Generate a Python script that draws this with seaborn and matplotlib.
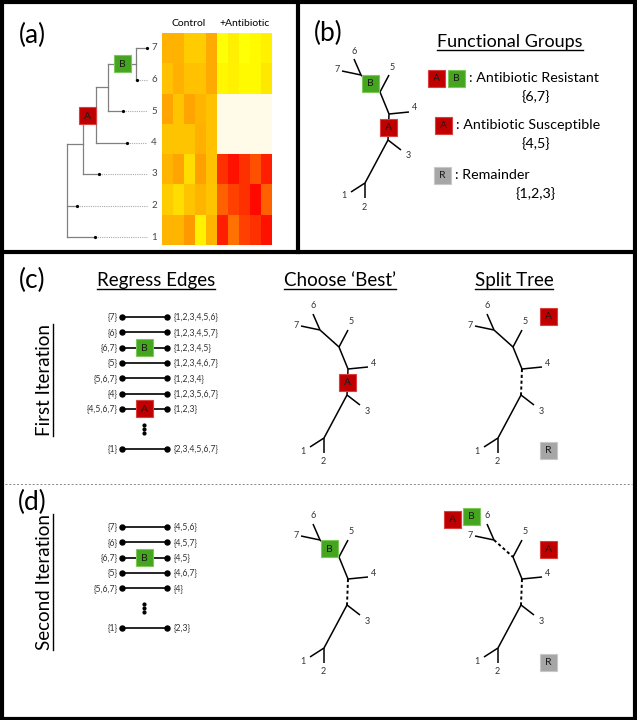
import numpy as np
import pandas as pd
import seaborn as sns
import matplotlib.pyplot as plt
from matplotlib.colors import LinearSegmentedColormap
from matplotlib.patches import Rectangle

# ---- data -------------------------------------------------------------
# heatmap rows are genes 7..1 (top to bottom); 5 control + 5 antibiotic replicates
genes = ['7', '6', '5', '4', '3', '2', '1']
conditions = ['Control'] * 5 + ['+Antibiotic'] * 5
expr_g7 = [0.37, 0.37, 0.28, 0.28, 0.40, 0.10, 0.16, 0.10, 0.12, 0.15]
expr_g6 = [0.32, 0.38, 0.32, 0.32, 0.40, 0.13, 0.15, 0.12, 0.12, 0.18]
expr_g5 = [0.42, 0.31, 0.42, 0.36, 0.32, 0.00, 0.00, 0.00, 0.00, 0.00]
expr_g4 = [0.31, 0.31, 0.31, 0.38, 0.32, 0.00, 0.00, 0.00, 0.00, 0.00]
expr_g3 = [0.36, 0.42, 0.22, 0.44, 0.32, 0.83, 0.94, 0.83, 0.72, 0.89]
expr_g2 = [0.28, 0.22, 0.31, 0.36, 0.31, 0.66, 0.77, 0.83, 0.97, 0.66]
expr_g1 = [0.36, 0.36, 0.46, 0.15, 0.36, 0.89, 0.60, 0.77, 0.83, 0.94]

# regress-edge lists
first_left = ['{7}', '{6}', '{6,7}', '{5}', '{5,6,7}', '{4}', '{4,5,6,7}', '{1}']
first_right = ['{1,2,3,4,5,6}', '{1,2,3,4,5,7}', '{1,2,3,4,5}', '{1,2,3,4,6,7}',
               '{1,2,3,4}', '{1,2,3,5,6,7}', '{1,2,3}', '{2,3,4,5,6,7}']
first_box = [None, None, 'B', None, None, None, 'A', None]
second_left = ['{7}', '{6}', '{6,7}', '{5}', '{5,6,7}', '{1}']
second_right = ['{4,5,6}', '{4,5,7}', '{4,5}', '{4,6,7}', '{4}', '{2,3}']
second_box = [None, None, 'B', None, None, None]

# functional groups legend
group_letters = [['A', 'B'], ['A'], ['R']]
group_names = [': Antibiotic Resistant', ': Antibiotic Susceptible', ': Remainder']
group_members = ['{6,7}', '{4,5}', '{1,2,3}']

# unrooted tree template (offsets from the node joining leaf 4)
tree_nodes = {'J67': (-28, -39), 'J5': (-9, -22), 'J4': (0, 0), 'J3': (-1, 26), 'J12': (-24, 69),
              'L6': (-35, -55), 'L7': (-47, -43), 'L5': (0, -39), 'L4': (20, -2),
              'L3': (12, 36), 'L1': (-38, 78), 'L2': (-24, 84)}
tree_edges = [('L6', 'J67'), ('L7', 'J67'), ('J67', 'J5'), ('J5', 'L5'), ('J5', 'J4'),
              ('J4', 'L4'), ('J4', 'J3'), ('J3', 'L3'), ('J3', 'J12'), ('J12', 'L1'), ('J12', 'L2')]
leaf_label_off = {'L6': (0, -8), 'L7': (-5, -1), 'L5': (3, -8), 'L4': (6, -4),
                  'L3': (7, 6), 'L1': (-7, 4), 'L2': (-1, 9)}

box_colors = {'A': '#C00000', 'B': '#45A51F', 'R': '#A6A6A6'}
box_edges = {'A': '#D84040', 'B': '#7CC85A', 'R': '#C8C8C8'}

plt.rcParams['font.family'] = ['Lato', 'DejaVu Sans']

fig = plt.figure(figsize=(6.37, 7.2), dpi=100)
ax = fig.add_axes([0, 0, 1, 1])
ax.set_xlim(0, 637)
ax.set_ylim(720, 0)
ax.axis('off')


def box(x, y, letter, size=17, fs=7.5):
    ax.add_patch(Rectangle((x - size / 2, y - size / 2), size, size, facecolor=box_colors[letter],
                           edgecolor=box_edges[letter], lw=0.8, zorder=5))
    ax.text(x, y + 0.5, letter, ha='center', va='center', fontsize=fs, color='#1a1a1a', zorder=6)


def draw_tree(cx, cy, dashed=(), boxes=None):
    pts = {k: (cx + v[0], cy + v[1]) for k, v in tree_nodes.items()}
    for a, b in tree_edges:
        ls = (0, (1.6, 1.4)) if (a, b) in dashed else '-'
        lw = 1.4 if (a, b) in dashed else 1.1
        ax.plot([pts[a][0], pts[b][0]], [pts[a][1], pts[b][1]], color='black', lw=lw, ls=ls,
                solid_capstyle='butt')
    for leaf, (dx, dy) in leaf_label_off.items():
        ax.text(pts[leaf][0] + dx, pts[leaf][1] + dy, leaf[1], ha='center', va='center',
                fontsize=6.5, color='#333333')
    for (a, b), letter in (boxes or {}).items():
        box((pts[a][0] + pts[b][0]) / 2, (pts[a][1] + pts[b][1]) / 2, letter)


# ---- frame -----------------------------------------------------------
fk = dict(color='black', lw=3.0, solid_capstyle='projecting')
ax.plot([2, 2], [0, 720], **fk)
ax.plot([0, 637], [1.5, 1.5], **fk)
ax.plot([635, 635], [0, 720], **fk)
ax.plot([0, 637], [718.5, 718.5], **fk)
ax.plot([0, 637], [252, 252], **fk)
ax.plot([298, 298], [0, 252], **fk)
ax.plot([5, 632], [484, 484], color='#888888', lw=0.7, ls=(0, (2, 2)))

# ---- panel (a) -------------------------------------------------------
ax.text(32, 35, '(a)', ha='center', va='center', fontsize=19)
heat = pd.DataFrame([expr_g7, expr_g6, expr_g5, expr_g4, expr_g3, expr_g2, expr_g1],
                    index=genes, columns=range(len(conditions)))
cmap = LinearSegmentedColormap.from_list('heat', [(0, '#FFFBE8'), (0.1, '#FFFF00'), (1, '#FF0000')])
hax = fig.add_axes([162 / 637, 1 - 245 / 720, 110 / 637, 212 / 720])
sns.heatmap(heat, ax=hax, cmap=cmap, vmin=0, vmax=1, cbar=False,
            xticklabels=False, yticklabels=False)
hax.set_xlabel('')
hax.set_ylabel('')
ax.text(189, 24, 'Control', ha='center', va='center', fontsize=7.5)
ax.text(245, 24, '+Antibiotic', ha='center', va='center', fontsize=7.5)

# dendrogram: leaf y from label rows, node depth in px
leaf_y = {g: 48 + i * 31.5 for i, g in enumerate(genes)}
leaf_tip = {'7': 147, '6': 137, '5': 123, '4': 127, '3': 99, '2': 77, '1': 95}
node_x = {'root': 67, 'A': 83, 'n45': 96, 'n5B': 108, 'B': 136}
node_kids = {'B': ['7', '6'], 'n5B': ['B', '5'], 'n45': ['n5B', '4'], 'A': ['n45', '3'],
             'root': ['A', '2', '1']}
node_y = dict(leaf_y)
for n in ['B', 'n5B', 'n45', 'A', 'root']:
    node_y[n] = np.mean([node_y[k] for k in node_kids[n][:2]])
gk = dict(color='#808080', lw=0.9)
for n, kids in node_kids.items():
    ys = [node_y[k] for k in kids]
    ax.plot([node_x[n]] * 2, [min(ys), max(ys)], **gk)
    for k in kids:
        end = node_x[k] if k in node_x else leaf_tip[k]
        ax.plot([node_x[n], end], [node_y[k]] * 2, **gk)
for g in genes:
    ax.plot([leaf_tip[g], 147], [leaf_y[g]] * 2, color='#aaaaaa', lw=0.8, ls=(0, (1, 1)))
    ax.plot(leaf_tip[g], leaf_y[g], 'o', color='black', ms=1.3)
    ax.text(154, leaf_y[g], g, ha='center', va='center', fontsize=7, color='#444444')
box((node_x['A'] + node_x['n45']) / 2 - 2, node_y['n45'] + 1, 'A')
box((node_x['n5B'] + node_x['B']) / 2, node_y['B'], 'B')

# ---- panel (b) -------------------------------------------------------
ax.text(328, 33, '(b)', ha='center', va='center', fontsize=19)
draw_tree(389, 114, boxes={('J67', 'J5'): 'B', ('J4', 'J3'): 'A'})
titles = []
titles.append(ax.text(510, 47, 'Functional Groups', ha='center', va='baseline', fontsize=13))
row_y = [78, 125, 175]
box_x0 = [436, 443, 442]
for i in range(3):
    for j, letter in enumerate(group_letters[i]):
        box(box_x0[i] + j * 20, row_y[i], letter)
    x_text = box_x0[i] + (len(group_letters[i]) - 1) * 20 + 13
    ax.text(x_text, row_y[i], group_names[i], ha='left', va='center', fontsize=10.3)
    ax.text(536, row_y[i] + 19, group_members[i], ha='center', va='center', fontsize=10.3)

# ---- panels (c) and (d) ----------------------------------------------
ax.text(32, 280, '(c)', ha='center', va='center', fontsize=19)
ax.text(32, 502, '(d)', ha='center', va='center', fontsize=19)
titles.append(ax.text(156, 286, 'Regress Edges', ha='center', va='baseline', fontsize=13.5))
titles.append(ax.text(340, 286, 'Choose \u2018Best\u2019', ha='center', va='baseline', fontsize=13.5))
titles.append(ax.text(514, 286, 'Split Tree', ha='center', va='baseline', fontsize=13.5))
side = [ax.text(50, 380, 'First Iteration', rotation=90, rotation_mode='anchor',
                ha='center', va='baseline', fontsize=13.5),
        ax.text(50, 582, 'Second Iteration', rotation=90, rotation_mode='anchor',
                ha='center', va='baseline', fontsize=13.5)]


def edge_list(top, left, right, boxes, gap_rows=1.6):
    n = len(left)
    ys = [top + i * 15.3 for i in range(n - 1)] + [top + (n - 1 + gap_rows) * 15.3]
    for y, l, r, b in zip(ys, left, right, boxes):
        ax.plot([122, 167], [y, y], color='black', lw=1.2)
        ax.plot([122, 167], [y, y], 'o', color='black', ms=3.6)
        ax.text(118, y, l, ha='right', va='center', fontsize=6.2, color='#333333')
        ax.text(174, y, r, ha='left', va='center', fontsize=6.2, color='#333333')
        if b:
            box(144, y, b)
    yd = ys[-2] + (ys[-1] - ys[-2]) * 0.5
    ax.plot([144] * 3, [yd - 4, yd, yd + 4], 'o', color='black', ms=2.0)


edge_list(317, first_left, first_right, first_box)
edge_list(527, second_left, second_right, second_box)

draw_tree(348, 369, boxes={('J4', 'J3'): 'A'})
draw_tree(522, 369, dashed=[('J4', 'J3')])
box(548, 316, 'A')
box(548, 450, 'R')

draw_tree(348, 579, dashed=[('J4', 'J3')], boxes={('J67', 'J5'): 'B'})
draw_tree(522, 579, dashed=[('J4', 'J3'), ('J67', 'J5')])
box(452, 519, 'A')
box(471, 516, 'B')
box(548, 549, 'A')
box(548, 662, 'R')

# underlines
fig.canvas.draw()
rend = fig.canvas.get_renderer()
inv = ax.transData.inverted()
for t in titles:
    bb = t.get_window_extent(rend)
    (x0, _), (x1, _) = inv.transform([[bb.x0, bb.y0], [bb.x1, bb.y1]])
    y = t.get_position()[1] + 2.5
    ax.plot([x0, x1], [y, y], color='black', lw=1.0)
for t in side:
    bb = t.get_window_extent(rend)
    (_, y0), (_, y1) = inv.transform([[bb.x0, bb.y0], [bb.x1, bb.y1]])
    x = t.get_position()[0] + 2.5
    ax.plot([x, x], [y0, y1], color='black', lw=1.0)

fig.savefig('out.png', dpi=100)
